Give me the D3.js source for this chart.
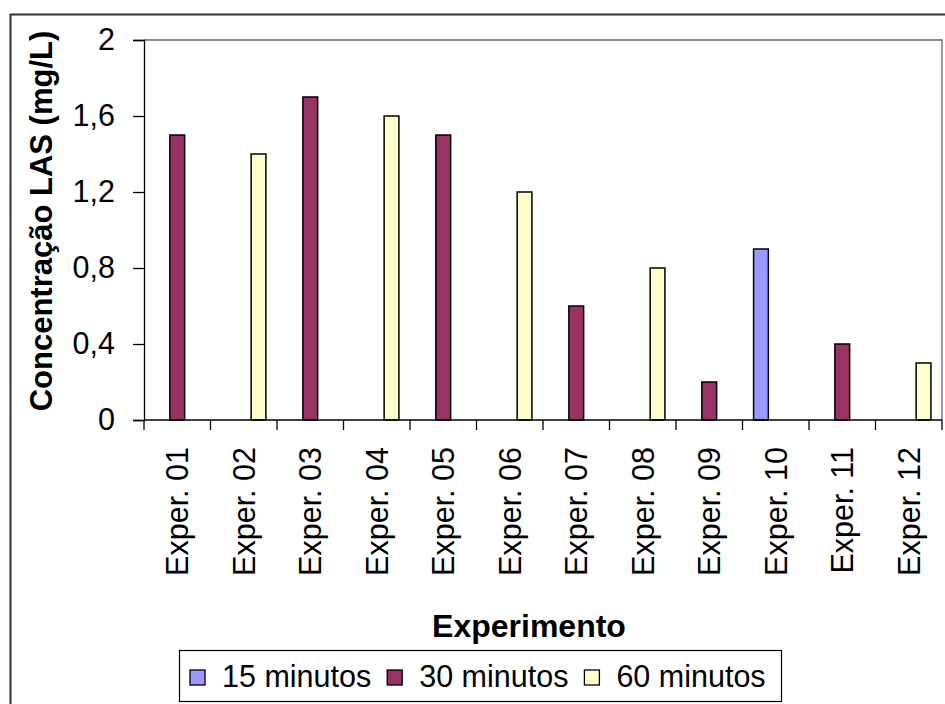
<!DOCTYPE html>
<html>
<head>
<meta charset="utf-8">
<script src="https://cdn.jsdelivr.net/npm/d3@7"></script>
<style>
  html, body { margin: 0; padding: 0; background: #fff; }
  svg { display: block; font-family: "Liberation Sans", Arial, sans-serif; }
</style>
</head>
<body>
<svg id="chart" width="945" height="704"></svg>
<script>
const categories = ["Exper. 01","Exper. 02","Exper. 03","Exper. 04","Exper. 05","Exper. 06","Exper. 07","Exper. 08","Exper. 09","Exper. 10","Exper. 11","Exper. 12"];
const seriesNames = ["15 minutos","30 minutos","60 minutos"];
const values15 = [0,0,0,0,0,0,0,0,0,0.9,0,0];
const values30 = [1.5,0,1.7,0,1.5,0,0.6,0,0.2,0,0.4,0];
const values60 = [0,1.4,0,1.6,0,1.2,0,0.8,0,0,0,0.3];
const seriesColors = ["#9999FF","#993366","#FFFFCC"];
const yTickValues = [0,0.4,0.8,1.2,1.6,2];
const yTickLabels = ["0","0,4","0,8","1,2","1,6","2"];
const yTitle = "Concentração LAS (mg/L)";
const xTitle = "Experimento";

const allSeries = [values15, values30, values60];
const svg = d3.select("#chart");
const FS = 30.5;

// outer chart frame
svg.append("rect").attr("x",10.5).attr("y",14.5).attr("width",1000).attr("height",1000)
  .attr("fill","none").attr("stroke","#333").attr("stroke-width",2);

const plot = {left:144, right:942, top:40, bottom:420};

const x0 = d3.scaleBand().domain(categories).range([plot.left, plot.right]).padding(0);
const bw = x0.bandwidth();
const barW = bw / 4.5;
const x1 = d3.scaleBand().domain(seriesNames).range([0.75*barW, bw-0.75*barW]).padding(0);
const y = d3.scaleLinear().domain([0,2]).range([plot.bottom, plot.top]);

// plot border top/right
svg.append("path")
  .attr("d", `M${plot.left},${plot.top}H${plot.right}V${plot.bottom}`)
  .attr("fill","none").attr("stroke","#666").attr("stroke-width",1.3);

// bars
const data = [];
categories.forEach((c,i) => seriesNames.forEach((s,j) => {
  if (allSeries[j][i] > 0) data.push({c, s, v: allSeries[j][i], color: seriesColors[j]});
}));
svg.append("g").selectAll("rect").data(data).join("rect")
  .attr("x", d => x0(d.c) + x1(d.s))
  .attr("y", d => y(d.v))
  .attr("width", x1.bandwidth())
  .attr("height", d => y(0) - y(d.v))
  .attr("fill", d => d.color)
  .attr("stroke","#000").attr("stroke-width",1.5);

// y axis
const yAxis = d3.axisLeft(y).tickValues(yTickValues)
  .tickFormat((d,i) => yTickLabels[i]).tickSizeOuter(0).tickSize(11).tickPadding(18);
const gy = svg.append("g").attr("transform",`translate(${plot.left},0)`).call(yAxis);
gy.select(".domain").attr("stroke","#000").attr("stroke-width",1.3);
gy.selectAll(".tick line").attr("stroke","#000").attr("stroke-width",1.3);
gy.selectAll(".tick text").attr("font-size",FS).attr("fill","#000")
  .attr("font-family","'Liberation Sans', Arial, sans-serif");

// x axis
const gx = svg.append("g").attr("transform",`translate(0,${plot.bottom})`);
gx.append("line").attr("x1",plot.left).attr("x2",plot.right).attr("y1",0).attr("y2",0)
  .attr("stroke","#000").attr("stroke-width",1.3);
const boundaries = categories.map(c => x0(c)).concat([plot.right]);
gx.selectAll("line.tk").data(boundaries).join("line").attr("class","tk")
  .attr("x1",d=>d).attr("x2",d=>d).attr("y1",0).attr("y2",10)
  .attr("stroke","#000").attr("stroke-width",1.3);
gx.selectAll("text.lbl").data(categories).join("text").attr("class","lbl")
  .attr("transform", d => `translate(${x0(d)+bw/2+11},27) rotate(-90)`)
  .attr("text-anchor","end").attr("font-size",FS).attr("fill","#000")
  .text(d => d);

// titles
svg.append("text").attr("x",529).attr("y",637)
  .attr("text-anchor","middle").attr("font-size",32).attr("font-weight","bold").text(xTitle);
svg.append("text").attr("transform",`translate(52,221) rotate(-90)`)
  .attr("text-anchor","middle").attr("font-size",31).attr("font-weight","bold").text(yTitle);

// legend
const lg = svg.append("g");
lg.append("rect").attr("x",179.5).attr("y",650.5).attr("width",602).attr("height",51)
  .attr("fill","#fff").attr("stroke","#000").attr("stroke-width",1.2);
let cx = 190;
seriesNames.forEach((s,j) => {
  lg.append("rect").attr("x",cx).attr("y",670).attr("width",15).attr("height",15)
    .attr("fill",seriesColors[j]).attr("stroke","#000").attr("stroke-width",1.3);
  const t = lg.append("text").attr("x",cx+32).attr("y",687).attr("font-size",FS).attr("fill","#000").text(s);
  cx += 32 + t.node().getComputedTextLength() + 16;
});
</script>
</body>
</html>
